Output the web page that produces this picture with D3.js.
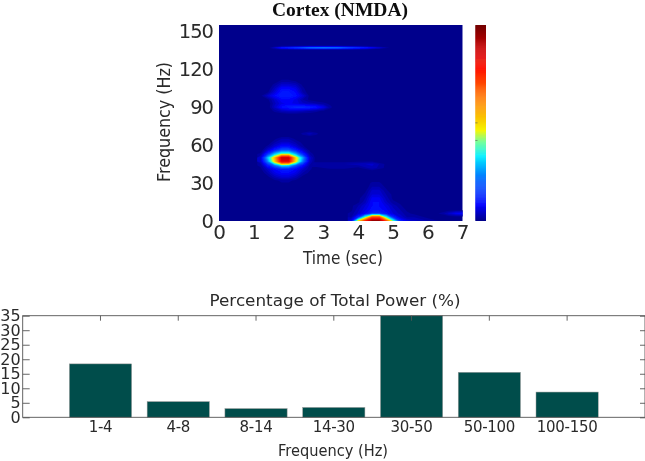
<!DOCTYPE html>
<html>
<head>
<meta charset="utf-8">
<script src="https://d3js.org/d3.v7.min.js"></script>
<style>
html, body { margin: 0; padding: 0; background: #fff; }
svg { display: block; }
text { font-family: "DejaVu Sans", sans-serif; fill: #2a2a2a; }
</style>
</head>
<body>
<div id="chart"></div>
<script>
// bar chart values
const bands = ["1-4", "4-8", "8-14", "14-30", "30-50", "50-100", "100-150"];
const percentPower = [18.4, 5.4, 3.0, 3.4, 35, 15.5, 8.7];
const percentTicks = [0, 5, 10, 15, 20, 25, 30, 35];

// spectrogram ticks
const timeTicks = [0, 1, 2, 3, 4, 5, 6, 7];
const freqTicks = [0, 30, 60, 90, 120, 150];

// colour bar
const colorLevels = [0, 0.08, 0.2, 0.33, 0.4, 0.46, 0.6, 0.78, 0.88, 1];
const colorValues = ["#00008c", "#0000ff", "#0060ff", "#00f0ff", "#60ff90", "#f5f500", "#ff8c00", "#ff1000", "#c80000", "#700000"];
const colorbarTicks = [0.5, 0.41];

// spectrogram power, rows go from low to high frequency
const gammaTimes = [1.2, 1.4, 1.6, 1.8, 2.0, 2.2, 2.4, 2.6, 2.8];
const gammaFreqs = [32, 35, 38, 41, 44, 47, 50, 53, 56, 59, 62, 65, 68];
const gammaPower = [
  [0, 0, .01, .02, .02, .01, 0, 0, 0],
  [0, .01, .04, .06, .06, .04, .01, 0, 0],
  [0, .03, .07, .09, .09, .07, .03, .01, 0],
  [.01, .05, .09, .12, .12, .09, .05, .02, 0],
  [.02, .12, .22, .34, .32, .20, .11, .03, 0],
  [.05, .24, .52, .84, .84, .50, .24, .05, 0],
  [.06, .30, .55, .88, .88, .52, .28, .06, 0],
  [.02, .15, .30, .42, .42, .28, .14, .03, 0],
  [0, .06, .13, .20, .20, .13, .06, .01, 0],
  [0, .02, .06, .10, .10, .06, .02, 0, 0],
  [0, 0, .03, .05, .05, .03, .01, 0, 0],
  [0, 0, .01, .03, .03, .01, 0, 0, 0],
  [0, 0, 0, 0, 0, 0, 0, 0, 0]
];

const deltaTimes = [3.8, 4.0, 4.2, 4.4, 4.6, 4.8, 5.0, 5.2, 5.4, 5.6, 5.8, 6.0, 6.2];
const deltaFreqs = [0, 3, 6, 9, 12, 15, 18, 21, 24, 27, 30, 33];
const deltaPower = [
  [.08, .50, .78, .97, .97, .72, .40, .14, .07, .05, .04, .03, .02],
  [.03, .14, .40, .72, .72, .38, .14, .06, .03, .03, .02, .01, 0],
  [.02, .05, .09, .14, .14, .10, .06, .04, .02, .01, 0, 0, 0],
  [.01, .04, .07, .10, .10, .08, .05, .03, .01, 0, 0, 0, 0],
  [.01, .03, .06, .09, .09, .07, .04, .02, 0, 0, 0, 0, 0],
  [0, .01, .04, .09, .09, .05, .02, .01, 0, 0, 0, 0, 0],
  [0, .01, .03, .08, .08, .04, .01, 0, 0, 0, 0, 0, 0],
  [0, 0, .02, .06, .06, .03, .01, 0, 0, 0, 0, 0, 0],
  [0, 0, .01, .05, .05, .02, 0, 0, 0, 0, 0, 0, 0],
  [0, 0, 0, .03, .03, .01, 0, 0, 0, 0, 0, 0, 0],
  [0, 0, 0, .02, .02, 0, 0, 0, 0, 0, 0, 0, 0],
  [0, 0, 0, 0, 0, 0, 0, 0, 0, 0, 0, 0, 0]
];

const lineTimes = [1.4, 1.8, 2.2, 2.6, 3.0, 3.4, 3.8, 4.2, 4.6, 5.0];
const lineFreqs = [135, 136, 137, 138, 139];
const linePower = [
  [0, 0, 0, 0, 0, 0, 0, 0, 0, 0],
  [0, .04, .05, .06, .06, .06, .05, .04, .01, 0],
  [0, .12, .17, .24, .25, .24, .18, .13, .06, 0],
  [0, .03, .04, .05, .05, .05, .04, .03, .01, 0],
  [0, 0, 0, 0, 0, 0, 0, 0, 0, 0]
];

const highTimes = [1.2, 1.4, 1.6, 1.8, 2.0, 2.2, 2.4, 2.6, 2.8, 3.0, 3.2, 3.4];
const highFreqs = [84, 87, 90, 93, 96, 99, 102, 105, 108, 111, 114];
const highPower = [
  [0, 0, 0, 0, 0, 0, 0, 0, 0, 0, 0, 0],
  [0, 0, .02, .04, .05, .05, .04, .03, .02, .01, 0, 0],
  [0, 0, .05, .10, .12, .14, .14, .13, .11, .07, .02, 0],
  [0, 0, .04, .07, .08, .07, .05, .04, .03, .02, .01, 0],
  [0, .01, .05, .09, .09, .07, .03, .01, 0, 0, 0, 0],
  [.01, .05, .09, .12, .12, .10, .06, .01, 0, 0, 0, 0],
  [0, .01, .06, .11, .11, .09, .03, 0, 0, 0, 0, 0],
  [0, 0, .04, .09, .09, .07, .02, 0, 0, 0, 0, 0],
  [0, 0, .02, .05, .05, .04, .01, 0, 0, 0, 0, 0],
  [0, 0, 0, .02, .02, .01, 0, 0, 0, 0, 0, 0],
  [0, 0, 0, 0, 0, 0, 0, 0, 0, 0, 0, 0]
];

const faintTimes = [2.4, 2.8, 3.2, 3.6, 4.0, 4.4, 4.8];
const faintFreqs = [39, 42, 45, 48];
const faintPower = [
  [0, 0, 0, 0, 0, 0, 0],
  [.01, .01, .02, .02, .01, .04, .01],
  [.04, .03, .03, .03, .04, .05, .01],
  [0, 0, 0, 0, 0, 0, 0]
];

const cornerTimes = [6.4, 6.6, 6.8, 7.0, 7.2];
const cornerFreqs = [3, 6, 9];
const cornerPower = [
  [0, 0, 0, 0, 0],
  [.02, .05, .08, .09, .09],
  [0, 0, 0, 0, 0]
];

const spotTimes = [2.2, 2.4, 2.6, 2.8, 3.0];
const spotFreqs = [66, 69, 72];
const spotPower = [
  [0, 0, 0, 0, 0],
  [0, .02, .04, .02, 0],
  [0, 0, 0, 0, 0]
];

// faint patches first, their dark edges must not cover the hot spots
const patches = [
  [faintTimes, faintFreqs, faintPower],
  [cornerTimes, cornerFreqs, cornerPower],
  [spotTimes, spotFreqs, spotPower],
  [lineTimes, lineFreqs, linePower],
  [highTimes, highFreqs, highPower],
  [gammaTimes, gammaFreqs, gammaPower],
  [deltaTimes, deltaFreqs, deltaPower]
];

const svg = d3.select("#chart").append("svg")
    .attr("width", 645)
    .attr("height", 461);

const defs = svg.append("defs");
defs.append("filter").attr("id", "soft")
    .attr("x", "-5%").attr("y", "-5%").attr("width", "110%").attr("height", "110%")
    .append("feGaussianBlur").attr("stdDeviation", 0.45);
defs.append("filter").attr("id", "softer")
    .append("feGaussianBlur").attr("stdDeviation", 0.6);
defs.append("clipPath").attr("id", "plotClip")
    .append("rect").attr("x", 219).attr("y", 25).attr("width", 243.7).attr("height", 196);

const page = svg.append("g").attr("filter", "url(#soft)");

const color = d3.scaleLinear().domain(colorLevels).range(colorValues).clamp(true);

// spectrogram
const xTime = d3.scaleLinear().domain([0, 7]).range([219, 462.7]);
const yFreq = d3.scaleLinear().domain([0, 155]).range([221, 25]);

const heat = page.append("g").attr("clip-path", "url(#plotClip)");
heat.append("rect")
    .attr("x", xTime(0)).attr("y", yFreq(155))
    .attr("width", xTime(7) - xTime(0))
    .attr("height", yFreq(0) - yFreq(155))
    .attr("fill", color(0));

const heatInner = heat.append("g").attr("filter", "url(#softer)");
const thresholds = d3.range(0.015, 1, 0.015);

patches.forEach(function(patch) {
    const times = patch[0], freqs = patch[1], power = patch[2];
    const n = times.length, m = freqs.length;
    const dt = times[1] - times[0], df = freqs[1] - freqs[0];
    const contours = d3.contours().size([n, m]).smooth(true).thresholds(thresholds)(power.flat());
    // grid value i sits at i + 0.5 in contour space
    const projection = d3.geoTransform({
        point: function(a, b) {
            this.stream.point(xTime(times[0] + (a - 0.5) * dt), yFreq(freqs[0] + (b - 0.5) * df));
        }
    });
    heatInner.selectAll(null)
        .data(contours.filter(d => d.coordinates.length))
        .enter()
        .append("path")
        .attr("d", d3.geoPath(projection))
        .attr("fill", d => color(d.value));
});

page.append("g")
    .attr("transform", "translate(0,221)")
    .call(d3.axisBottom(xTime).tickValues(timeTicks).tickFormat(d3.format("d")).tickSize(0).tickPadding(4))
    .call(g => g.select(".domain").remove())
    .selectAll("text").style("font-size", "20px");

page.append("g")
    .attr("transform", "translate(219,0)")
    .call(d3.axisLeft(yFreq).tickValues(freqTicks).tickSize(0).tickPadding(6))
    .call(g => g.select(".domain").remove())
    .selectAll("text").style("font-size", "19.5px").style("letter-spacing", "-1px");

page.append("text")
    .attr("x", 340).attr("y", 16.1)
    .attr("text-anchor", "middle")
    .attr("textLength", 136)
    .attr("lengthAdjust", "spacingAndGlyphs")
    .style("font-family", "'Liberation Serif', serif")
    .style("font-weight", "bold")
    .style("font-size", "18px")
    .style("fill", "#111")
    .text("Cortex (NMDA)");

page.append("text")
    .attr("x", 343).attr("y", 264)
    .attr("text-anchor", "middle")
    .attr("textLength", 80)
    .attr("lengthAdjust", "spacingAndGlyphs")
    .style("font-size", "17px")
    .text("Time (sec)");

page.append("text")
    .attr("transform", "translate(170,122) rotate(-90)")
    .attr("text-anchor", "middle")
    .attr("textLength", 120)
    .attr("lengthAdjust", "spacingAndGlyphs")
    .style("font-size", "17px")
    .text("Frequency (Hz)");

// colour bar
const yBar = d3.scaleLinear().domain([0, 1]).range([220.7, 25]);
page.append("g").selectAll("rect")
    .data(d3.range(0, 1, 0.005))
    .enter()
    .append("rect")
    .attr("x", 475.3)
    .attr("width", 10.7)
    .attr("y", d => yBar(d + 0.005))
    .attr("height", yBar(0) - yBar(0.0065))
    .attr("fill", d => color(d));
page.append("g").selectAll("line")
    .data(colorbarTicks)
    .enter()
    .append("line")
    .attr("x1", 475.3).attr("x2", 477.5)
    .attr("y1", d => yBar(d)).attr("y2", d => yBar(d))
    .attr("stroke", "#555").attr("stroke-width", 0.6);

// bars
const xBand = d3.scaleBand().domain(bands).range([61.6, 606]).paddingInner(0.2).paddingOuter(0.1);
const yPct = d3.scaleLinear().domain([0, 35]).range([417.3, 315.7]);
const barLeft = 22.7, barRight = 645;

page.append("g").selectAll("rect")
    .data(percentPower)
    .enter()
    .append("rect")
    .attr("x", (d, i) => xBand(bands[i]))
    .attr("y", d => yPct(d))
    .attr("width", xBand.bandwidth())
    .attr("height", d => yPct(0) - yPct(d))
    .attr("fill", "#024e4b")
    .attr("stroke", "#9a9a9a")
    .attr("stroke-width", 0.5);

page.append("rect")
    .attr("x", barLeft).attr("y", yPct(35))
    .attr("width", barRight - barLeft)
    .attr("height", yPct(0) - yPct(35))
    .attr("fill", "none")
    .attr("stroke", "#555")
    .attr("stroke-width", 0.9);

page.append("g")
    .attr("transform", `translate(${barLeft},0)`)
    .call(d3.axisLeft(yPct).tickValues(percentTicks).tickSize(-7).tickPadding(-5))
    .call(g => g.select(".domain").remove())
    .call(g => g.selectAll("line").attr("stroke", "#555").attr("stroke-width", 0.9))
    .selectAll("text").style("font-size", "16px").attr("x", -2);

page.append("g")
    .attr("transform", `translate(${barRight},0)`)
    .call(d3.axisRight(yPct).tickValues(percentTicks).tickSize(-5).tickFormat(""))
    .call(g => g.select(".domain").remove())
    .call(g => g.selectAll("line").attr("stroke", "#555").attr("stroke-width", 0.9));

page.append("g")
    .attr("transform", `translate(0,${yPct(35)})`)
    .call(d3.axisTop(xBand).tickSize(-5).tickFormat(""))
    .call(g => g.select(".domain").remove())
    .call(g => g.selectAll("line").attr("stroke", "#555").attr("stroke-width", 0.9));

page.append("g")
    .attr("transform", `translate(0,${yPct(0)})`)
    .call(d3.axisBottom(xBand).tickSize(0).tickPadding(4))
    .call(g => g.select(".domain").remove())
    .selectAll("text").style("font-size", "15px").style("letter-spacing", "-0.3px");

page.append("text")
    .attr("x", 335).attr("y", 306)
    .attr("text-anchor", "middle")
    .attr("textLength", 251)
    .attr("lengthAdjust", "spacingAndGlyphs")
    .style("font-size", "16px")
    .text("Percentage of Total Power (%)");

page.append("text")
    .attr("x", 333).attr("y", 456)
    .attr("text-anchor", "middle")
    .attr("textLength", 110)
    .attr("lengthAdjust", "spacingAndGlyphs")
    .style("font-size", "16px")
    .text("Frequency (Hz)");
</script>
</body>
</html>
